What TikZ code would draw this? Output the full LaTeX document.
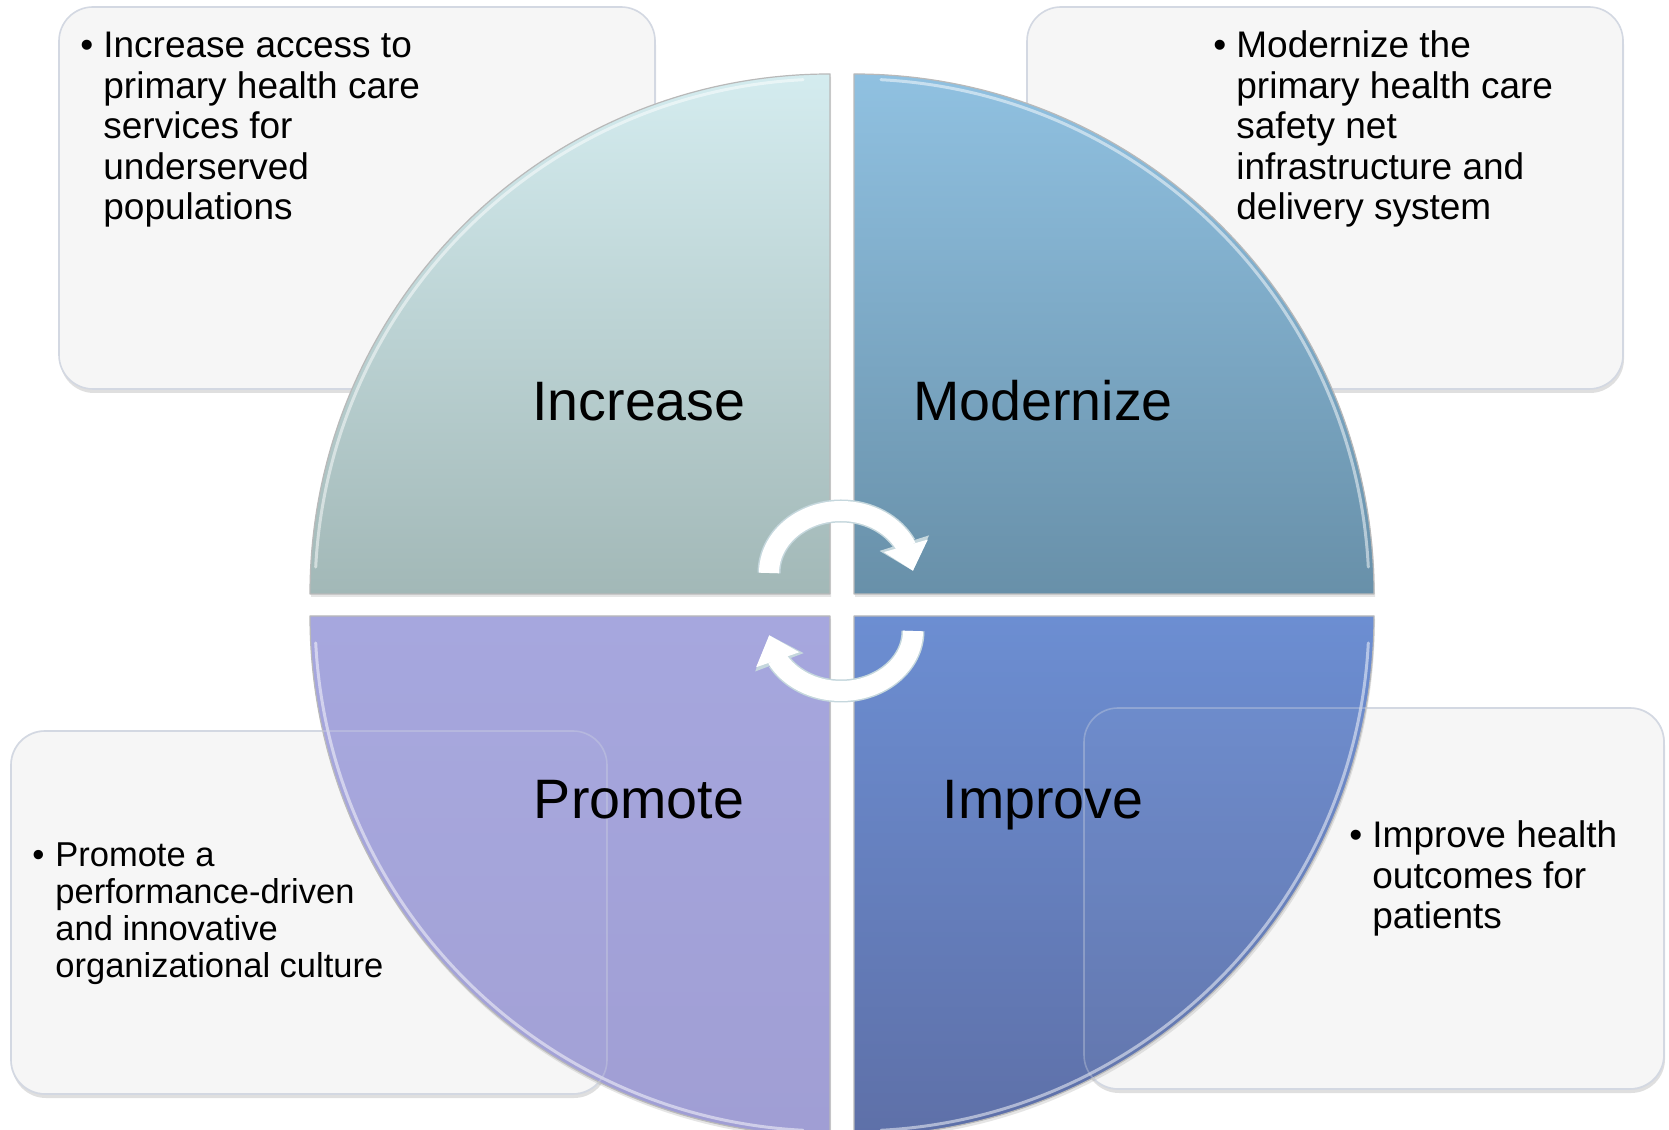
\documentclass[tikz,border=0pt]{standalone}
\usepackage{fontspec}
\setmainfont{Liberation Sans}
\usetikzlibrary{arrows.meta,bending,shadows}
\definecolor{boxfill}{HTML}{F6F6F6}
\definecolor{boxline}{HTML}{D3D8E2}
\definecolor{tlTop}{HTML}{D4ECEF}
\definecolor{tlBot}{HTML}{A2B8B7}
\definecolor{trTop}{HTML}{90C1E1}
\definecolor{trBot}{HTML}{6890A9}
\definecolor{blTop}{HTML}{A6A7DE}
\definecolor{blBot}{HTML}{A09ED4}
\definecolor{brTop}{HTML}{6C8ED2}
\definecolor{brBot}{HTML}{5E70A8}
\definecolor{arrowline}{HTML}{C5D7DD}
\tikzset{
  infobox/.style={draw=boxline, line width=0.8pt, fill=boxfill, rounded corners=17pt,
    drop shadow={shadow xshift=0.5pt, shadow yshift=-2pt, opacity=0.25}},
  bullettext/.style={anchor=base west, inner sep=0pt, font=\fontsize{18.5}{20.2}\selectfont},
  quarterlabel/.style={anchor=base, inner sep=0pt, font=\fontsize{27.8}{32}\selectfont},
  cyclearrow/.style={line width=10pt, line cap=butt, white, -{Triangle[width=22pt,length=13pt]}},
  cycleedge/.style={line width=11.5pt, line cap=butt, arrowline, -{Triangle[width=25pt,length=14.5pt]}},
}
\newcommand{\bulletlines}[2]{\makebox[11.5pt][l]{\textbullet}\parbox[t]{#1}{\raggedright #2}}
\begin{document}
\begin{tikzpicture}[x=0.5pt, y=0.5pt, line join=round, line cap=round]
\def \rad{520};
\useasboundingbox (0,0) rectangle (1669,1129);
\fill[white] (0,0) rectangle (1669,1129);
\foreach \xa/\ya/\xb/\yb in {59/740/655/1122, 1027/740/1623/1122, 11/35/607/398, 1084/40/1664/421}{\draw[infobox] (\xa,\ya) rectangle (\xb,\yb);}
\foreach \cx/\cy/\a/\ct/\cb in {830/535/90/tlTop/tlBot, 854/535/0/trTop/trBot, 830/513/180/blTop/blBot, 854/513/270/brTop/brBot}{
  \draw[draw=gray!55, line width=0.6pt, top color=\ct, bottom color=\cb, drop shadow={shadow xshift=0.5pt, shadow yshift=-1.5pt, opacity=0.2}] (\cx,\cy) -- ++(\a:\rad) arc ({\a}:{\a+90}:\rad) -- cycle;
  \draw[white, line width=1.5pt, opacity=0.5] (\cx,\cy) ++({\a+3}:{\rad-5}) arc ({\a+3}:{\a+87}:{\rad-5});
}
\foreach \xa/\ya/\xb/\yb in {11/35/607/398, 1084/40/1664/421}{\draw[boxline, line width=0.8pt, rounded corners=17pt, fill=white, fill opacity=0.03, draw opacity=0.35] (\xa,\ya) rectangle (\xb,\yb);}
\coordinate (topc) at (841,556);
\coordinate (botc) at (841,498);
\draw[cycleedge] (topc) ++(180:72 and 62) arc[start angle=180, end angle=2, x radius=72, y radius=62];
\draw[cyclearrow] (topc) ++(180:72 and 62) arc[start angle=180, end angle=2, x radius=72, y radius=62];
\draw[cycleedge] (botc) ++(0:72 and 60) arc[start angle=0, end angle=-176, x radius=72, y radius=60];
\draw[cyclearrow] (botc) ++(0:72 and 60) arc[start angle=0, end angle=-176, x radius=72, y radius=60];
\node[quarterlabel] (increase) at (639,708) {Increase};
\node[quarterlabel] (modernize) at (1043,708) {Modernize};
\node[quarterlabel] (promote) at (639,310) {Promote};
\node[quarterlabel] (improve) at (1043,310) {Improve};
\node[bullettext] (increasetext) at (80,1071) {\bulletlines{200pt}{Increase access to\\primary health care\\services for\\underserved\\populations}};
\node[bullettext] (moderntext) at (1213,1071) {\bulletlines{200pt}{Modernize the\\primary health care\\safety net\\infrastructure and\\delivery system}};
\node[bullettext, font=\fontsize{17.25}{18.5}\selectfont] (promotetext) at (32,262) {\bulletlines{200pt}{Promote a\\performance-driven\\and innovative\\organizational culture}};
\node[bullettext] (improvetext) at (1349,281) {\bulletlines{150pt}{Improve health\\outcomes for\\patients}};
\end{tikzpicture}
\end{document}
